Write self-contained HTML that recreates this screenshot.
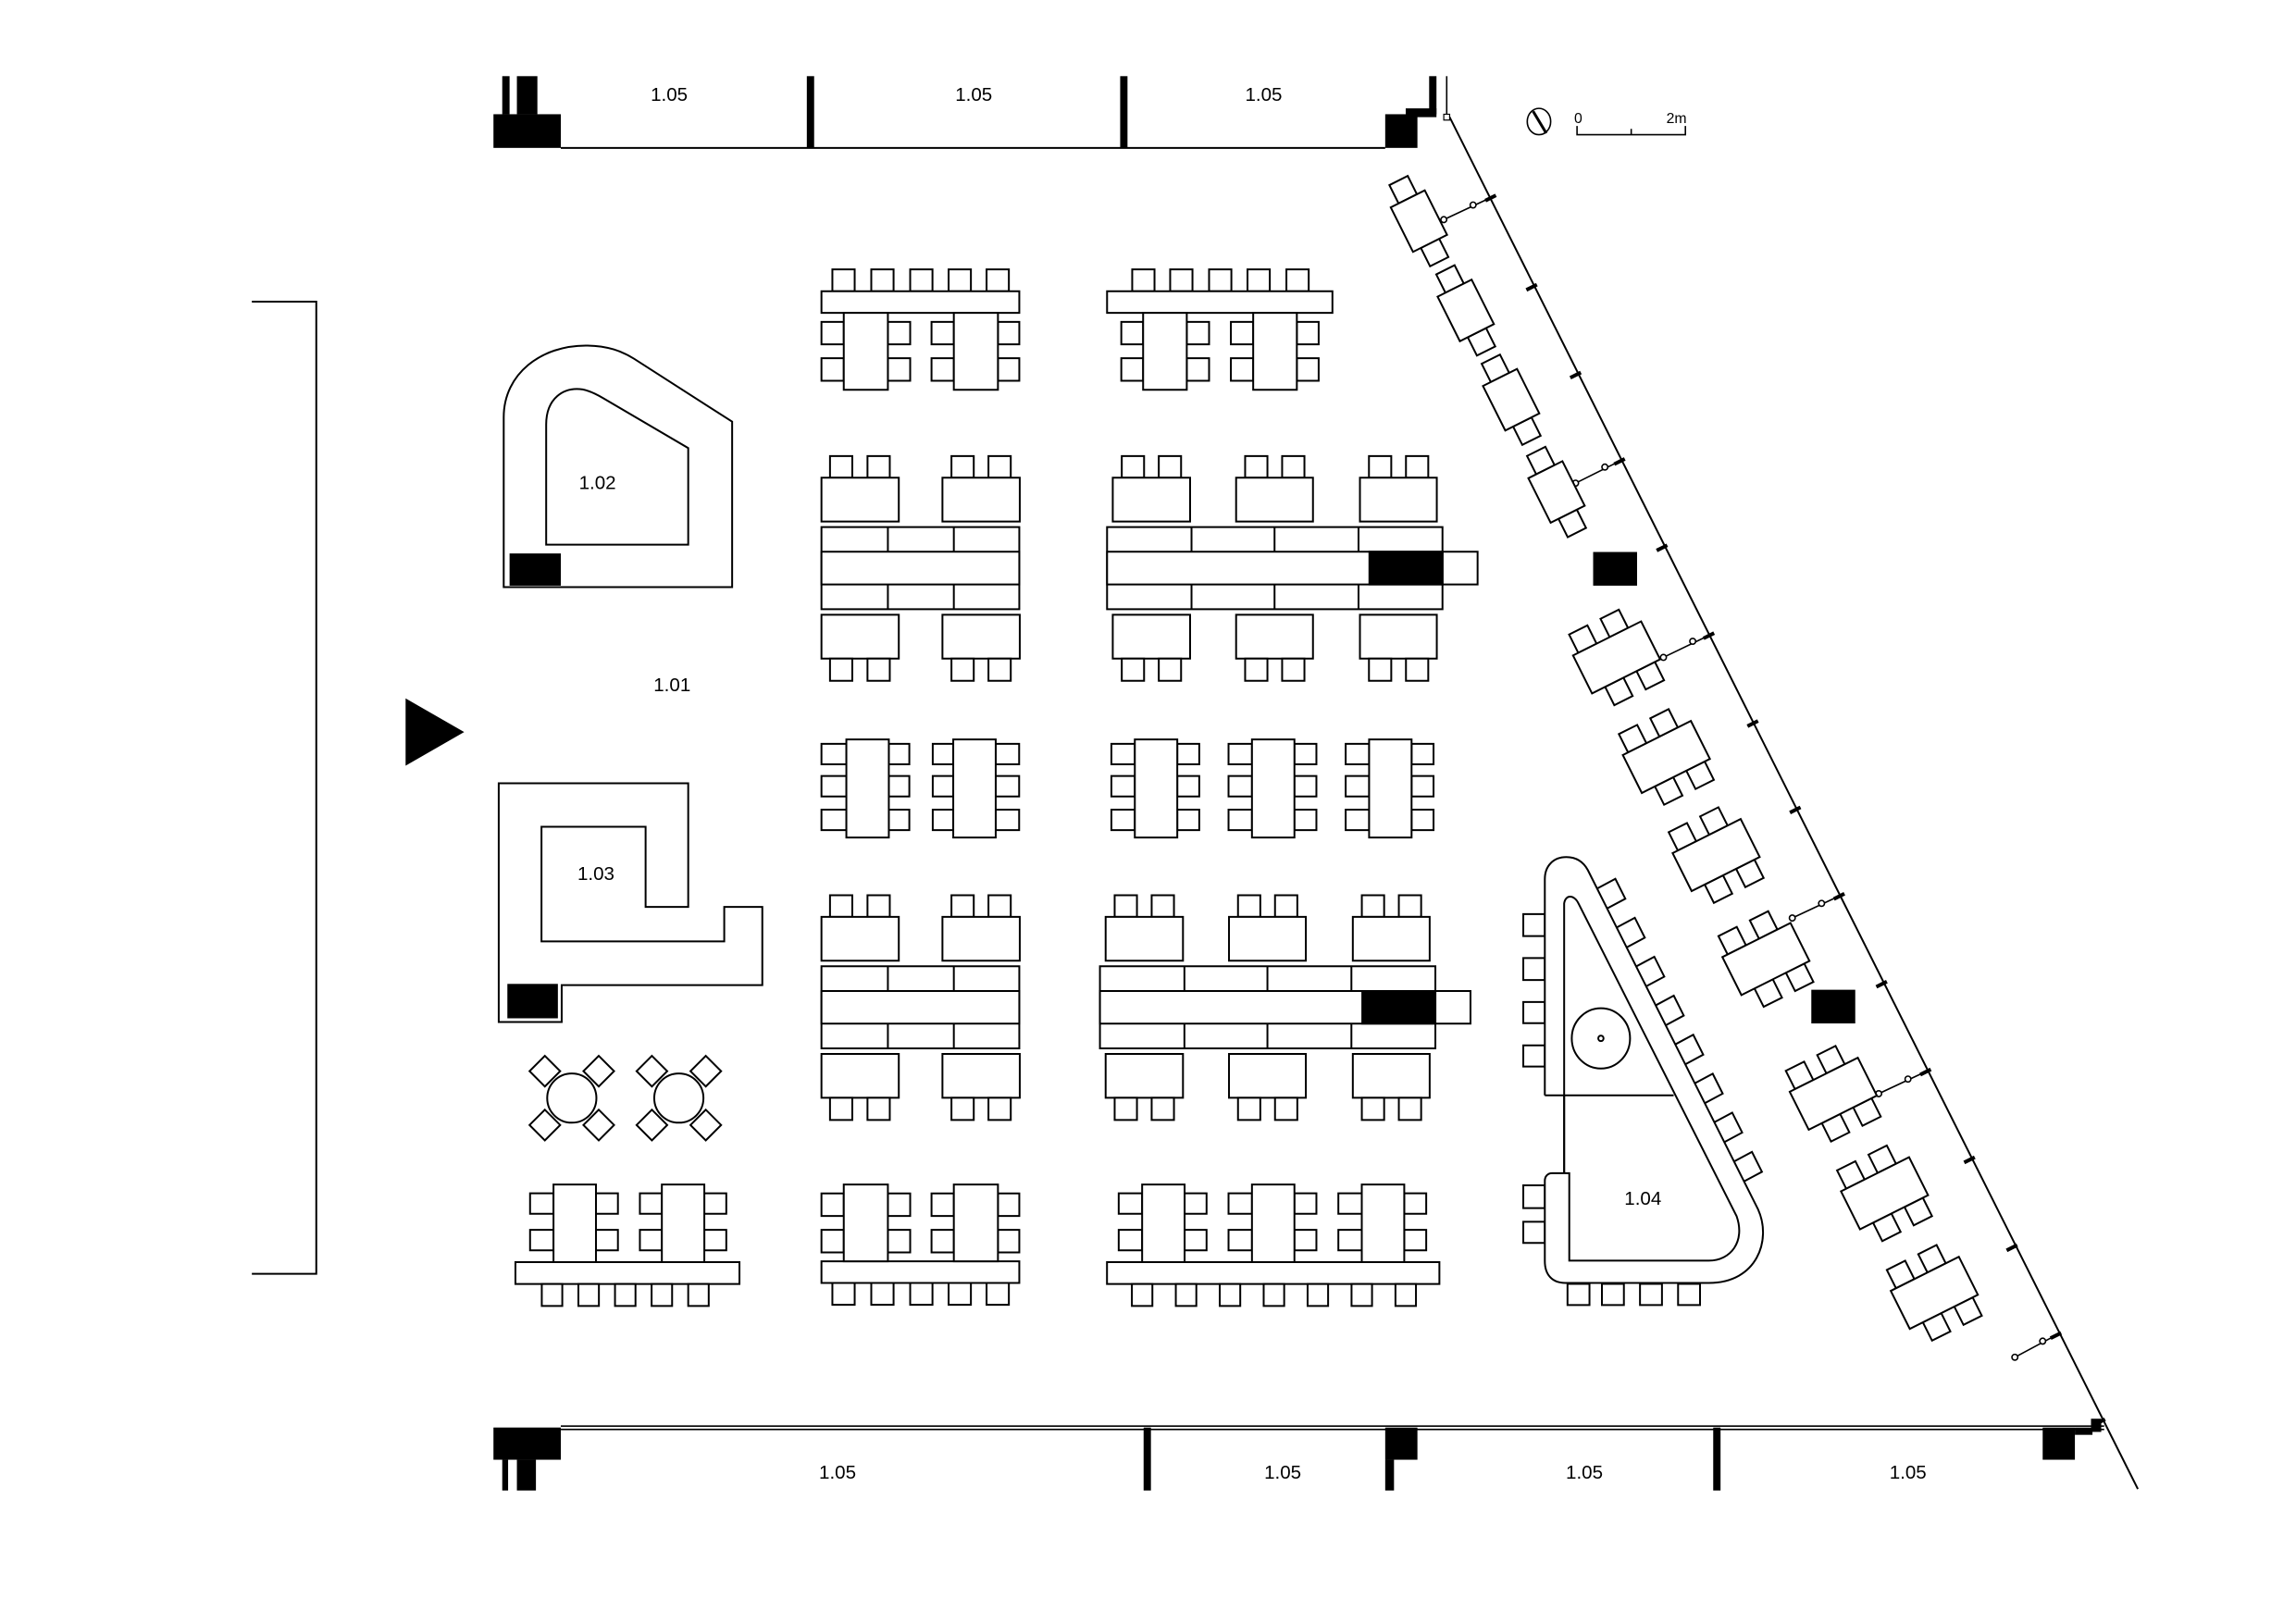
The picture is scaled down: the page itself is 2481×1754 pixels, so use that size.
<!DOCTYPE html>
<html><head><meta charset="utf-8"><style>
html,body{margin:0;padding:0;background:#fff}
svg{display:block}
svg *{vector-effect:non-scaling-stroke}
text{font-family:"Liberation Sans",sans-serif;fill:#000}
.s{fill:#fff;stroke:#000;stroke-width:2}
</style></head><body>
<svg width="2481" height="1754" viewBox="0 0 1568 1108.5" xmlns="http://www.w3.org/2000/svg">
<rect width="1568" height="1108.5" fill="#fff"/>
<defs>
<g id="gA" fill="#fff" stroke="#000" stroke-width="2">
 <rect x="98" y="127" width="47" height="71"/><rect x="180" y="127" width="47" height="71"/><rect x="262" y="127" width="47" height="71"/><rect x="343" y="127" width="47" height="71"/><rect x="423" y="127" width="47" height="71"/>
 <rect x="75" y="198" width="417" height="70"/>
 <rect x="75" y="297" width="47" height="73"/><rect x="75" y="415" width="47" height="73"/>
 <rect x="215" y="297" width="47" height="73"/><rect x="215" y="415" width="47" height="73"/>
 <rect x="307" y="297" width="47" height="73"/><rect x="307" y="415" width="47" height="73"/>
 <rect x="447" y="297" width="45" height="73"/><rect x="447" y="415" width="45" height="73"/>
 <rect x="122" y="268" width="93" height="249"/><rect x="354" y="268" width="93" height="249"/>
</g>
<g id="gC" fill="#fff" stroke="#000" stroke-width="2">
 <rect x="93" y="732" width="47" height="70"/><rect x="172" y="732" width="47" height="70"/><rect x="349" y="732" width="47" height="70"/><rect x="427" y="732" width="47" height="70"/>
 <rect x="75" y="802" width="163" height="142"/><rect x="330" y="802" width="163" height="142"/>
 <rect x="75" y="962" width="417" height="266"/>
 <rect x="75" y="1042" width="417" height="106"/>
 <line x1="215" y1="962" x2="215" y2="1042"/><line x1="354" y1="962" x2="354" y2="1042"/>
 <line x1="215" y1="1148" x2="215" y2="1228"/><line x1="354" y1="1148" x2="354" y2="1228"/>
 <rect x="75" y="1246" width="163" height="142"/><rect x="330" y="1246" width="163" height="142"/>
 <rect x="93" y="1388" width="47" height="72"/><rect x="172" y="1388" width="47" height="72"/><rect x="349" y="1388" width="47" height="72"/><rect x="427" y="1388" width="47" height="72"/>
</g>
<g id="gD" fill="#fff" stroke="#000" stroke-width="2">
 <rect x="708" y="732" width="47" height="70"/><rect x="786" y="732" width="47" height="70"/><rect x="968" y="732" width="47" height="70"/><rect x="1046" y="732" width="47" height="70"/><rect x="1229" y="732" width="47" height="70"/><rect x="1307" y="732" width="47" height="70"/>
 <rect x="689" y="802" width="163" height="142"/><rect x="949" y="802" width="162" height="142"/><rect x="1210" y="802" width="162" height="142"/>
 <rect x="677" y="962" width="707" height="266"/>
 <rect x="1384" y="1042" width="74" height="106"/>
 <rect x="677" y="1042" width="707" height="106"/>
 <rect fill="#000" x="1230" y="1042" width="154" height="106"/>
 <line x1="855" y1="962" x2="855" y2="1042"/><line x1="1030" y1="962" x2="1030" y2="1042"/><line x1="1207" y1="962" x2="1207" y2="1042"/>
 <line x1="855" y1="1148" x2="855" y2="1228"/><line x1="1030" y1="1148" x2="1030" y2="1228"/><line x1="1207" y1="1148" x2="1207" y2="1228"/>
 <rect x="689" y="1246" width="163" height="142"/><rect x="949" y="1246" width="162" height="142"/><rect x="1210" y="1246" width="162" height="142"/>
 <rect x="708" y="1388" width="47" height="72"/><rect x="786" y="1388" width="47" height="72"/><rect x="968" y="1388" width="47" height="72"/><rect x="1046" y="1388" width="47" height="72"/><rect x="1229" y="1388" width="47" height="72"/><rect x="1307" y="1388" width="47" height="72"/>
</g>
<g id="t6" fill="#fff" stroke="#000" stroke-width="2">
 <rect x="-22" y="-28.5" width="14" height="14"/><rect x="2" y="-28.5" width="14" height="14"/>
 <rect x="-16" y="14.5" width="14" height="14"/><rect x="8" y="14.5" width="14" height="14"/>
 <rect x="-26" y="-14.5" width="52" height="29"/>
</g>
<g id="t2" fill="#fff" stroke="#000" stroke-width="2">
 <rect x="-7" y="-31" width="14" height="14"/><rect x="-7" y="17" width="14" height="14"/>
 <rect x="-13" y="-17" width="26" height="34"/>
</g>
<g id="ch" fill="#fff" stroke="#000" stroke-width="2"><rect x="-7.4" y="-7.4" width="14.8" height="14.8"/></g>
<g id="rt">
 <use href="#ch" transform="translate(-18.4,-18.4) rotate(45)"/><use href="#ch" transform="translate(18.4,-18.4) rotate(45)"/>
 <use href="#ch" transform="translate(-18.4,18.4) rotate(45)"/><use href="#ch" transform="translate(18.4,18.4) rotate(45)"/>
 <circle fill="#fff" stroke="#000" stroke-width="2" r="16.8"/>
</g>
</defs>

<g transform="translate(536.7,157.2) scale(0.324,0.2108)">
 <use href="#gA"/>
 <g fill="#fff" stroke="#000" stroke-width="2">
  <rect x="730" y="127" width="47" height="71"/><rect x="810" y="127" width="47" height="71"/><rect x="892" y="127" width="47" height="71"/><rect x="973" y="127" width="47" height="71"/><rect x="1055" y="127" width="47" height="71"/>
  <rect x="677" y="198" width="475" height="70"/>
  <rect x="707" y="297" width="46" height="73"/><rect x="707" y="415" width="46" height="73"/>
  <rect x="845" y="297" width="47" height="73"/><rect x="845" y="415" width="47" height="73"/>
  <rect x="938" y="297" width="47" height="73"/><rect x="938" y="415" width="47" height="73"/>
  <rect x="1077" y="297" width="46" height="73"/><rect x="1077" y="415" width="46" height="73"/>
  <rect x="753" y="268" width="92" height="249"/><rect x="985" y="268" width="92" height="249"/>
 </g>
 <use href="#gC"/><use href="#gD"/>
 <use href="#gC" transform="translate(0,1423)"/><use href="#gD" transform="translate(-15,1423)"/>
 <use href="#gA" transform="translate(0,3609) scale(1,-1)"/>
</g>

<g class="s">
 <rect x="561" y="508" width="17" height="14"/><rect x="561" y="530" width="17" height="14"/><rect x="561" y="553" width="17" height="14"/>
 <rect x="607" y="508" width="14" height="14"/><rect x="607" y="530" width="14" height="14"/><rect x="607" y="553" width="14" height="14"/>
 <rect x="637" y="508" width="14" height="14"/><rect x="637" y="530" width="14" height="14"/><rect x="637" y="553" width="14" height="14"/>
 <rect x="680" y="508" width="16" height="14"/><rect x="680" y="530" width="16" height="14"/><rect x="680" y="553" width="16" height="14"/>
 <rect x="578" y="505" width="29" height="67"/><rect x="651" y="505" width="29" height="67"/>
 <rect x="759" y="508" width="16" height="14"/><rect x="759" y="530" width="16" height="14"/><rect x="759" y="553" width="16" height="14"/>
 <rect x="804" y="508" width="15" height="14"/><rect x="804" y="530" width="15" height="14"/><rect x="804" y="553" width="15" height="14"/>
 <rect x="839" y="508" width="16" height="14"/><rect x="839" y="530" width="16" height="14"/><rect x="839" y="553" width="16" height="14"/>
 <rect x="884" y="508" width="15" height="14"/><rect x="884" y="530" width="15" height="14"/><rect x="884" y="553" width="15" height="14"/>
 <rect x="919" y="508" width="16" height="14"/><rect x="919" y="530" width="16" height="14"/><rect x="919" y="553" width="16" height="14"/>
 <rect x="964" y="508" width="15" height="14"/><rect x="964" y="530" width="15" height="14"/><rect x="964" y="553" width="15" height="14"/>
 <rect x="775" y="505" width="29" height="67"/><rect x="855" y="505" width="29" height="67"/><rect x="935" y="505" width="29" height="67"/>
</g>

<g class="s">
 <rect x="362" y="815" width="16" height="14"/><rect x="362" y="840" width="16" height="14"/>
 <rect x="407" y="815" width="15" height="14"/><rect x="407" y="840" width="15" height="14"/>
 <rect x="437" y="815" width="15" height="14"/><rect x="437" y="840" width="15" height="14"/>
 <rect x="481" y="815" width="15" height="14"/><rect x="481" y="840" width="15" height="14"/>
 <rect x="378" y="809" width="29" height="53"/><rect x="452" y="809" width="29" height="53"/>
 <rect x="352" y="862" width="153" height="15"/>
 <rect x="370" y="877" width="14" height="15"/><rect x="395" y="877" width="14" height="15"/><rect x="420" y="877" width="14" height="15"/><rect x="445" y="877" width="14" height="15"/><rect x="470" y="877" width="14" height="15"/>
</g>
<g class="s">
 <rect x="764" y="815" width="16" height="14"/><rect x="764" y="840" width="16" height="14"/>
 <rect x="809" y="815" width="15" height="14"/><rect x="809" y="840" width="15" height="14"/>
 <rect x="839" y="815" width="16" height="14"/><rect x="839" y="840" width="16" height="14"/>
 <rect x="884" y="815" width="15" height="14"/><rect x="884" y="840" width="15" height="14"/>
 <rect x="914" y="815" width="16" height="14"/><rect x="914" y="840" width="16" height="14"/>
 <rect x="959" y="815" width="15" height="14"/><rect x="959" y="840" width="15" height="14"/>
 <rect x="780" y="809" width="29" height="53"/><rect x="855" y="809" width="29" height="53"/><rect x="930" y="809" width="29" height="53"/>
 <rect x="756" y="862" width="227" height="15"/>
 <rect x="773" y="877" width="14" height="15"/><rect x="803" y="877" width="14" height="15"/><rect x="833" y="877" width="14" height="15"/><rect x="863" y="877" width="14" height="15"/><rect x="893" y="877" width="14" height="15"/><rect x="923" y="877" width="14" height="15"/><rect x="953" y="877" width="14" height="15"/>
</g>

<use href="#rt" transform="translate(390.5,750)"/>
<use href="#rt" transform="translate(463.6,750)"/>

<path class="s" d="M344,401 V285 C344,255 370,236 400,236 C415,236 425,240 433,245 L500,288 V401 Z"/>
<path class="s" d="M373,372 V290 C373,272 385,264 398,266 C403,267 407,269 412,272 L470,306 V372 Z"/>
<rect x="348" y="378" width="35" height="22" fill="#000"/>
<path class="s" d="M340.6,535 H470 V619.4 H440.9 V564.7 H369.8 V643 H494.6 V619.4 H520.6 V672.8 H383.6 V698 H340.6 Z"/>
<rect x="346.5" y="672" width="34.5" height="23.5" fill="#000"/>

<g transform="translate(6,585) scale(1,1.035) translate(0,-580)">
<g class="s">
 <rect x="1034.3" y="618" width="14.7" height="14.5"/><rect x="1034.3" y="647" width="14.7" height="14.5"/><rect x="1034.3" y="676" width="14.7" height="14"/><rect x="1034.3" y="704.6" width="14.7" height="14"/>
 <rect x="1034.3" y="797" width="14.7" height="15"/><rect x="1034.3" y="821" width="14.7" height="14"/>
 <rect x="1064.5" y="862" width="15" height="14"/><rect x="1088" y="862" width="15" height="14"/><rect x="1114" y="862" width="15" height="14"/><rect x="1140" y="862" width="15" height="14"/>
</g>
<g>
 <use href="#ch" transform="translate(1094,604.7) rotate(-27.4)"/>
 <use href="#ch" transform="translate(1107.3,630.4) rotate(-27.4)"/>
 <use href="#ch" transform="translate(1120.6,656.1) rotate(-27.4)"/>
 <use href="#ch" transform="translate(1133.9,681.8) rotate(-27.4)"/>
 <use href="#ch" transform="translate(1147.2,707.6) rotate(-27.4)"/>
 <use href="#ch" transform="translate(1160.5,733.3) rotate(-27.4)"/>
 <use href="#ch" transform="translate(1173.8,759) rotate(-27.4)"/>
 <use href="#ch" transform="translate(1187.3,784.9) rotate(-27.4)"/>
</g>
<path class="s" d="M1049,737.6 V595 C1049,586 1055,580.4 1063.7,580.4 C1070,580.4 1075,583 1078.4,589 L1194.7,813 C1204,833 1194,861.4 1161,861.4 H1063 C1054,861.4 1049,856 1049,847 V794 C1049,791 1051,789 1054,789 H1065.7 V846.7 H1161 C1176,846.7 1186,834 1180,817.4 L1072,611 C1069,605 1063,605 1062.2,611 V789"/>
<line class="s" x1="1049" y1="737.6" x2="1137" y2="737.6"/>
<line class="s" x1="1062.2" y1="737.6" x2="1062.2" y2="789"/>
<circle class="s" cx="1087.3" cy="700" r="19.9"/>
<circle class="s" cx="1087.3" cy="700" r="1.8"/>
</g>

<line x1="990" y1="80" x2="1460" y2="1017" stroke="#000" stroke-width="2"/>
<g stroke="#000" stroke-width="4">
 <line x1="1014.4" y1="137" x2="1021.6" y2="133.4"/>
 <line x1="1042.4" y1="198" x2="1049.6" y2="194.4"/>
 <line x1="1072.4" y1="258" x2="1079.6" y2="254.4"/>
 <line x1="1102.4" y1="317" x2="1109.6" y2="313.4"/>
 <line x1="1131.4" y1="376" x2="1138.6" y2="372.4"/>
 <line x1="1163.4" y1="436" x2="1170.6" y2="432.4"/>
 <line x1="1193.4" y1="496" x2="1200.6" y2="492.4"/>
 <line x1="1222.4" y1="555" x2="1229.6" y2="551.4"/>
 <line x1="1252.4" y1="614" x2="1259.6" y2="610.4"/>
 <line x1="1281.4" y1="674" x2="1288.6" y2="670.4"/>
 <line x1="1311.4" y1="734" x2="1318.6" y2="730.4"/>
 <line x1="1341.4" y1="794" x2="1348.6" y2="790.4"/>
 <line x1="1370.4" y1="854" x2="1377.6" y2="850.4"/>
 <line x1="1400.4" y1="914" x2="1407.6" y2="910.4"/>
 <line x1="1430.4" y1="973" x2="1437.6" y2="969.4"/>
</g>
<g stroke="#000" stroke-width="1.6" fill="#fff">
 <line x1="986" y1="150" x2="1018" y2="135"/><circle cx="986" cy="150" r="2"/><circle cx="1006" cy="140" r="2"/>
 <line x1="1076" y1="330" x2="1106" y2="315"/><circle cx="1076" cy="330" r="2"/><circle cx="1096" cy="319" r="2"/>
 <line x1="1136" y1="449" x2="1167" y2="434"/><circle cx="1136" cy="449" r="2"/><circle cx="1156" cy="438" r="2"/>
 <line x1="1224" y1="627" x2="1256" y2="612"/><circle cx="1224" cy="627" r="2"/><circle cx="1244" cy="617" r="2"/>
 <line x1="1283" y1="747" x2="1315" y2="732"/><circle cx="1283" cy="747" r="2"/><circle cx="1303" cy="737" r="2"/>
 <line x1="1376" y1="927" x2="1404" y2="912"/><circle cx="1376" cy="927" r="2"/><circle cx="1395" cy="916" r="2"/>
</g>
<use href="#t2" transform="translate(969,151) rotate(-26.6)"/>
<use href="#t2" transform="translate(1001,212) rotate(-26.6)"/>
<use href="#t2" transform="translate(1032,273) rotate(-26.6)"/>
<use href="#t2" transform="translate(1063,336) rotate(-26.6)"/>
<use href="#t6" transform="translate(1104,449) rotate(-26.6)"/>
<use href="#t6" transform="translate(1138,517) rotate(-26.6)"/>
<use href="#t6" transform="translate(1172,584) rotate(-26.6)"/>
<use href="#t6" transform="translate(1206,655) rotate(-26.6)"/>
<use href="#t6" transform="translate(1252,747) rotate(-26.6)"/>
<use href="#t6" transform="translate(1287,815) rotate(-26.6)"/>
<use href="#t6" transform="translate(1321,883) rotate(-26.6)"/>
<rect x="1088" y="377" width="30" height="23" fill="#000"/>
<rect x="1237" y="676" width="30" height="23" fill="#000"/>

<line x1="383" y1="101" x2="946" y2="101" stroke="#000" stroke-width="2"/>
<g fill="#000">
 <rect x="337" y="78" width="46" height="23"/><rect x="343" y="52" width="5" height="26"/><rect x="353" y="52" width="14" height="26"/>
 <rect x="551" y="52" width="5" height="49"/><rect x="765" y="52" width="5" height="49"/>
 <rect x="946" y="78" width="22" height="23"/><rect x="960" y="74" width="21" height="6"/><rect x="976" y="52" width="5" height="26"/>
</g>
<line x1="988" y1="52" x2="988" y2="80" stroke="#000" stroke-width="1.6"/>
<rect x="986" y="78" width="4" height="4" fill="#fff" stroke="#000" stroke-width="1.2"/>
<line x1="383" y1="974" x2="1437" y2="974" stroke="#000" stroke-width="1.6"/>
<line x1="383" y1="976.3" x2="1437" y2="976.3" stroke="#000" stroke-width="1.6"/>
<g fill="#000">
 <rect x="337" y="975" width="46" height="22"/><rect x="343" y="997" width="4" height="21"/><rect x="353" y="997" width="13" height="21"/>
 <rect x="781" y="975" width="5" height="43"/>
 <rect x="946" y="975" width="22" height="22"/><rect x="946" y="997" width="6" height="21"/>
 <rect x="1170" y="975" width="5" height="43"/>
 <rect x="1395" y="975" width="22" height="22"/>
 <rect x="1417" y="975" width="12" height="5"/><rect x="1428" y="969" width="7" height="9"/>
</g>

<polyline points="172,206 216,206 216,870 172,870" fill="none" stroke="#000" stroke-width="2"/>
<polygon points="277,477 317,500 277,523" fill="#000"/>

<ellipse cx="1051" cy="83" rx="8" ry="9" fill="none" stroke="#000" stroke-width="1.6"/>
<line x1="1047" y1="76" x2="1056" y2="91" stroke="#000" stroke-width="3"/>
<polyline points="1077,86 1077,92 1151,92 1151,86" fill="none" stroke="#000" stroke-width="1.6"/>
<line x1="1114" y1="88" x2="1114" y2="92" stroke="#000" stroke-width="1.6"/>
<text x="1075" y="84" font-size="10">0</text>
<text x="1138" y="84" font-size="10">2m</text>

<g font-size="13" text-anchor="middle">
 <text x="457" y="69">1.05</text><text x="665" y="69">1.05</text><text x="863" y="69">1.05</text>
 <text x="572" y="1010">1.05</text><text x="876" y="1010">1.05</text><text x="1082" y="1010">1.05</text><text x="1303" y="1010">1.05</text>
 <text x="459" y="472">1.01</text>
 <text x="408" y="334">1.02</text>
 <text x="407" y="601">1.03</text>
 <text x="1122" y="823">1.04</text>
</g>
</svg>
</body></html>
